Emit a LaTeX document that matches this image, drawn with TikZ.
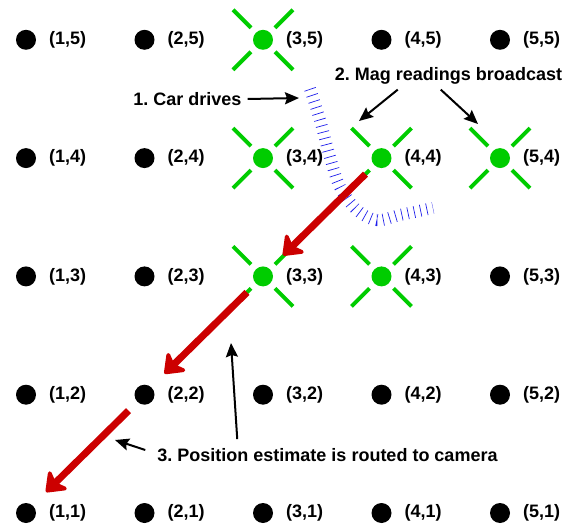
\documentclass[tikz,border=0pt]{standalone}
\usepackage{fontspec}
\setmainfont{Liberation Sans}
\usetikzlibrary{arrows.meta,calc}
\definecolor{gr}{RGB}{0,204,0}
\definecolor{rd}{RGB}{204,0,0}
\definecolor{bl}{RGB}{30,30,235}
\frenchspacing
\begin{document}
\begin{tikzpicture}[x=1pt,y=-1pt,
  dot/.style={circle,fill=black,minimum size=20pt,inner sep=0pt},
  gdot/.style={dot,fill=gr},
  lab/.style={anchor=west,font=\fontsize{18}{20}\selectfont\bfseries,inner sep=0pt},
  txt/.style={font=\fontsize{18}{20}\selectfont\bfseries,inner sep=0pt},
  garm/.style={gr,line width=4pt},
  redarrow/.style={rd,line width=7pt,-{Stealth[length=21pt,width=32pt,inset=6pt,round]}},
  barrow/.style={black,line width=2pt,-{Stealth[length=14pt,width=12pt,inset=2pt]}},
  tickline/.style={bl,line width=12pt,dash pattern=on 0.7pt off 5.7pt}]
\useasboundingbox (0,0) rectangle (571,527);

% car track
\draw[tickline] plot[smooth,tension=0.6] coordinates {(310,89) (320,120) (330,157) (340,187) (357,210) (377,220) (400,215) (433,208)};

% grid of nodes
\foreach \i/\j/\c in {1/1/dot,2/1/dot,3/1/dot,4/1/dot,5/1/dot,
                      1/2/dot,2/2/dot,3/2/dot,4/2/dot,5/2/dot,
                      1/3/dot,2/3/dot,3/3/gdot,4/3/gdot,5/3/dot,
                      1/4/dot,2/4/dot,3/4/gdot,4/4/gdot,5/4/gdot,
                      1/5/dot,2/5/dot,3/5/gdot,4/5/dot,5/5/dot} {
  \node[\c] (n\i\j) at ({26+118.5*(\i-1)},{513-118.3*(\j-1)}) {};
  \node[lab] (l\i\j) at ($(n\i\j)+(23,0)$) {(\i,\j)};
}

% green broadcast marks
\foreach \p in {35,34,44,54,33,43} {
  \draw[garm] ($(n\p)+(12,12)$) -- ($(n\p)+(30,30)$);
  \draw[garm] ($(n\p)+(-12,12)$) -- ($(n\p)+(-30,30)$);
  \draw[garm] ($(n\p)+(12,-12)$) -- ($(n\p)+(30,-30)$);
  \draw[garm] ($(n\p)+(-12,-12)$) -- ($(n\p)+(-30,-30)$);
}

% routing arrows
\draw[redarrow] ($(n44)+(-16,16)$) -- ($(n33)+(20,-21)$);
\draw[redarrow] ($(n33)+(-16,16)$) -- ($(n22)+(20,-21)$);
\draw[redarrow] ($(n22)+(-16,16)$) -- ($(n11)+(20,-21)$);

% annotations
\node[txt] (t1) at (187.5,99) {1. Car drives};
\node[txt] (t2) at (448.5,76) {2. Mag readings broadcast};
\node[txt] (t3) at (327.5,455) {3. Position estimate is routed to camera};

\coordinate (c1) at (299,98);
\coordinate (c2a) at (359,121);
\coordinate (c2b) at (478,124);
\coordinate (c3a) at (231,343);
\coordinate (c3b) at (115,440);

\draw[barrow] ($(t1.east)+(6,0)$) -- (c1);
\draw[barrow] ($(t2.south west)+(63,5)$) -- (c2a);
\draw[barrow] ($(t2.south west)+(106,5)$) -- (c2b);
\draw[barrow] ($(t3.north west)+(80,-9)$) -- (c3a);
\draw[barrow] ($(t3.west)+(-12,-5)$) -- (c3b);
\end{tikzpicture}
\end{document}
